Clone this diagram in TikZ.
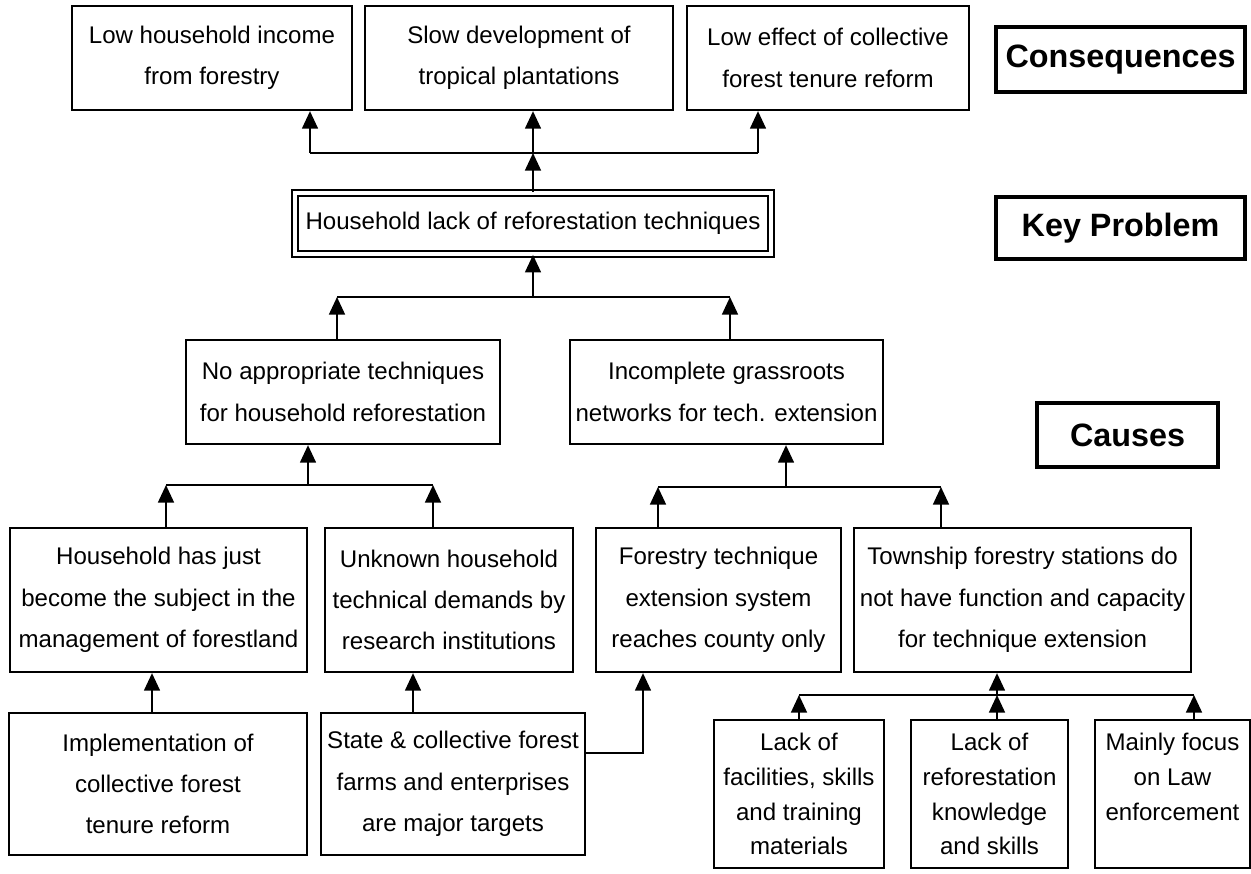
\documentclass[tikz,border=0pt]{standalone}
\usepackage{fontspec}
\setmainfont{Liberation Sans}
\usepackage{tikz}
\usetikzlibrary{arrows.meta,calc,positioning}

\begin{document}
\begin{tikzpicture}[x=0.02cm,y=-0.02cm,
	box/.style={draw,line width=1.3pt,align=center,inner sep=0pt,font=\fontsize{13.7}{23.5}\selectfont},
	smallbox/.style={box,font=\fontsize{13.7}{19.8}\selectfont},
	tag/.style={draw,line width=2pt,inner sep=0pt,font=\fontsize{18.4}{22}\selectfont\bfseries},
	arr/.style={line width=1.2pt,-{Triangle[width=9pt,length=10pt]}},
	every path/.style={line width=1.2pt}]
	\useasboundingbox (0,0) rectangle (1251,874);

	% consequences
	\node (c1) at (212,58) [box,minimum width=5.60cm,minimum height=2.08cm] {Low household income\\from forestry};
	\node (c2) at (519,58) [box,minimum width=6.16cm,minimum height=2.08cm] {Slow development of\\tropical plantations};
	\node (c3) at (828,58) [box,minimum width=5.64cm,minimum height=2.08cm] {Low effect of collective\\forest tenure reform};

	% key problem
	\node (kp) at (533,223.5) [box,double,line width=1pt,double distance=2.4pt,minimum width=9.52cm,minimum height=1.22cm] {Household lack of reforestation techniques};

	% direct causes
	\node (n1) at (343,392) [box,minimum width=6.28cm,minimum height=2.08cm] {No appropriate techniques\\for household reforestation};
	\node (n2) at (726.5,392) [box,minimum width=6.26cm,minimum height=2.08cm] {Incomplete grassroots\\networks for tech. extension};

	\node (b1) at (158.5,600) [box,minimum width=5.94cm,minimum height=2.88cm] {Household has just\\become the subject in the\\management of forestland};
	\node (b2) at (449,600) [box,minimum width=4.96cm,minimum height=2.88cm] {Unknown household\\technical demands by\\research institutions};
	\node (b3) at (718.5,600) [box,minimum width=4.90cm,minimum height=2.88cm] {Forestry technique\\extension system\\reaches county only};
	\node (b4) at (1022.5,600) [box,minimum width=6.74cm,minimum height=2.88cm] {Township forestry stations do\\not have function and capacity\\for technique extension};

	% root causes
	\node (d1) at (158,784) [box,minimum width=5.96cm,minimum height=2.84cm] {Implementation of\\collective forest\\tenure reform};
	\node (d2) at (453,784) [box,minimum width=5.28cm,minimum height=2.84cm] {State \& collective forest\\farms and enterprises\\are major targets};

	\node (e1) at (799,794) [smallbox,minimum width=3.40cm,minimum height=2.96cm] {Lack of\\facilities, skills\\and training\\materials};
	\node (e2) at (989.5,794) [smallbox,minimum width=3.14cm,minimum height=2.96cm] {Lack of\\reforestation\\knowledge\\and skills};
	\node (e3) at (1172.5,794) [smallbox,minimum width=3.10cm,minimum height=2.96cm] {Mainly focus\\on Law\\enforcement\\\mbox{}};

	% level tags
	\node (tcons) at (1120.5,59.5) [tag,minimum width=4.98cm,minimum height=1.30cm] {Consequences};
	\node (tkey) at (1120.5,228) [tag,minimum width=4.98cm,minimum height=1.24cm] {Key Problem};
	\node (tcau) at (1127.5,435) [tag,minimum width=3.62cm,minimum height=1.28cm] {Causes};

	% key problem -> consequences
	\coordinate (k1) at (310,153);
	\coordinate (k3) at (758,153);
	\draw[arr] (kp.north) -- (kp.north |- k1);
	\draw (k1) -- (k3);
	\draw[arr] (k1) -- (k1 |- c1.south);
	\draw[arr] (kp.north |- k1) -- (kp.north |- c2.south);
	\draw[arr] (k3) -- (k3 |- c3.south);

	% direct causes -> key problem
	\coordinate (m1) at (337,297);
	\coordinate (m2) at (730,297);
	\draw (m1) -- (m2);
	\draw[arr] (kp.south |- m1) -- (kp.south);
	\draw[arr] (m1 |- n1.north) -- (m1);
	\draw[arr] (m2 |- n2.north) -- (m2);

	% -> no appropriate techniques
	\coordinate (p0) at (308,485);
	\coordinate (p1) at (166,485);
	\coordinate (p2) at (433,485);
	\draw (p1) -- (p2);
	\draw[arr] (p0) -- (p0 |- n1.south);
	\draw[arr] (p1 |- b1.north) -- (p1);
	\draw[arr] (p2 |- b2.north) -- (p2);

	% -> incomplete networks
	\coordinate (q0) at (786,487);
	\coordinate (q1) at (658,487);
	\coordinate (q2) at (941,487);
	\draw (q1) -- (q2);
	\draw[arr] (q0) -- (q0 |- n2.south);
	\draw[arr] (q1 |- b3.north) -- (q1);
	\draw[arr] (q2 |- b4.north) -- (q2);

	% root causes
	\coordinate (s1) at (152,713);
	\coordinate (s2) at (413,713);
	\coordinate (s3) at (643,753);
	\draw[arr] (s1 |- d1.north) -- (s1 |- b1.south);
	\draw[arr] (s2 |- d2.north) -- (s2 |- b2.south);
	\draw[arr] (d2.east |- s3) -- (s3) -- (s3 |- b3.south);

	% -> township stations
	\coordinate (u1) at (799,695);
	\coordinate (u2) at (997,695);
	\coordinate (u3) at (1194,695);
	\draw (u1) -- (u3);
	\draw[arr] (u1 |- e1.north) -- (u1);
	\draw[arr] (u2 |- e2.north) -- (u2);
	\draw[arr] (u3 |- e3.north) -- (u3);
	\draw[arr] (u2) -- (u2 |- b4.south);
\end{tikzpicture}
\end{document}
